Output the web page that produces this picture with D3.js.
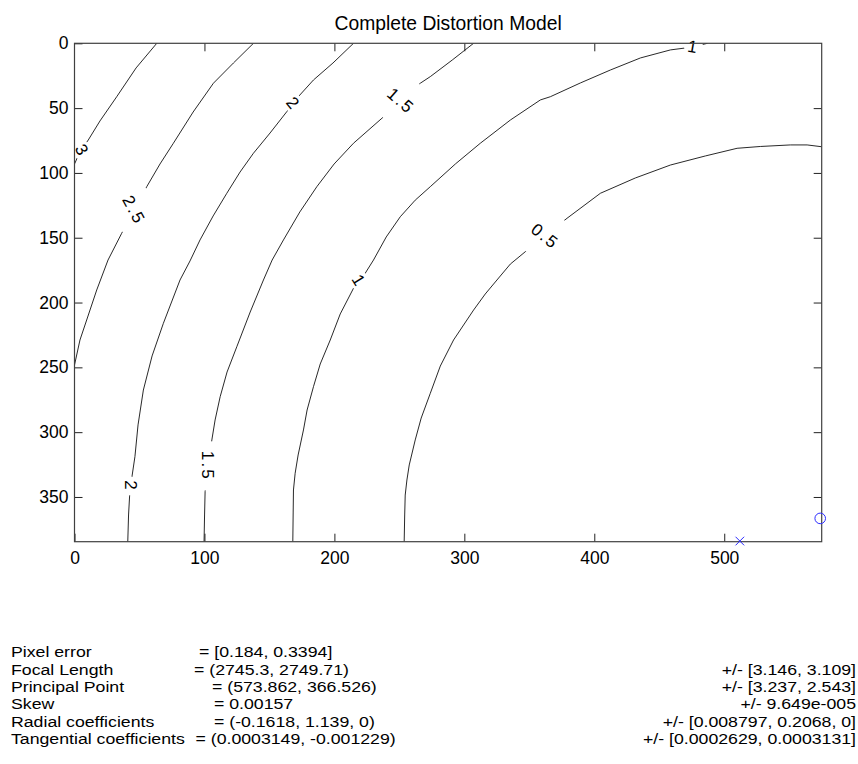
<!DOCTYPE html>
<html>
<head>
<meta charset="utf-8">
<script src="https://cdn.jsdelivr.net/npm/d3@7"></script>
<style>
  body { margin: 0; background: #fff; }
  text { font-family: "Liberation Sans", Arial, Helvetica, sans-serif; fill: #000; }
</style>
</head>
<body>
<svg id="chart" width="858" height="764"></svg>
<script>
// Image extent (pixels) shown on the axes
const xDomain = [0, 575];
const yDomain = [0, 384.5];

// Tick values
const xTicks = [0, 100, 200, 300, 400, 500];
const yTicks = [0, 50, 100, 150, 200, 250, 300, 350];

// Iso-lines of the distortion magnitude (pixels), traced as [u, v] polylines
const contour3  = [[63.3,0],[47.4,19.0],[32.5,41.2],[19.6,59.9],[10.6,74.6],[4.2,83.8],[0,93.1]];
const contour25 = [[137.7,0],[122.3,15.2],[106.9,30.8],[91.3,53.0],[76.1,77.1],[65.8,93.1],[55.6,110.6],
                   [36.3,146.6],[25.8,167.2],[17.1,190.3],[10.4,210.4],[4.2,228.9],[0,248.2]];
const contour2  = [[214.7,0],[198.9,15.2],[183.9,28.3],[173.4,39.9],[163.4,52.7],[150.5,69.2],[137.7,84.8],
                   [127.4,99.3],[117.2,115.7],[106.7,133.2],[96.6,151.7],[88.9,167.9],[81.2,182.6],[68.4,216.0],
                   [59.7,241.2],[53.0,267.5],[48.9,294.4],[46.5,318.9],[44.3,333.8],[42.4,349.3],[41.6,363.9],[41.0,384.5]];
const contour15 = [[307.1,0],[290.7,12.9],[273.8,25.7],[266.1,30.8],[236.6,57.8],[214.7,77.1],[199.8,93.1],
                   [186.5,110.6],[173.4,130.1],[160.8,151.7],[152.1,167.2],[145.4,182.6],[135.2,207.3],[124.9,234.1],
                   [117.4,253.6],[112.1,272.6],[108.2,290.6],[105.7,306.0],[100.5,345.9],[100.1,363.9],[99.7,384.5]];
const contour1  = [[487.1,0],[482.5,1.1],[470.2,3.6],[458.6,5.1],[435.5,11.3],[412.4,20.6],[389.3,30.6],[366.2,41.2],
                   [358.5,43.7],[335.4,59.2],[312.3,77.1],[293.1,93.1],[273.8,110.6],[262.2,121.0],[250.7,133.8],
                   [239.9,149.4],[230.1,167.2],[223.7,177.4],[214.7,189.0],[204.5,208.8],[196.8,228.9],[189.1,247.4],
                   [183.9,264.9],[179.0,282.9],[176.2,298.3],[172.1,317.6],[169.8,331.7],[168.5,344.6],[168.0,384.5]];
const contour05 = [[575,79.8],[563.8,78.4],[550.9,78.4],[527.8,79.6],[509.9,81.0],[485.5,86.9],[458.6,93.9],
                   [431.6,103.9],[404.7,115.7],[379.0,135.0],[346.9,160.8],[335.4,170.3],[325.1,182.6],[316.1,193.4],
                   [307.1,205.8],[291.7,228.9],[281.5,249.0],[273.8,270.0],[266.8,289.1],[262.2,306.0],[257.6,325.3],
                   [255.8,336.9],[254.5,348.5],[254.1,363.9],[253.7,384.5]];

const levels   = [3, 2.5, 2, 1.5, 1, 0.5];
const contours = [contour3, contour25, contour2, contour15, contour1, contour05];

// Inline level labels: which level, and where on that line it sits
const labelLevels = [3, 2.5, 2, 1.5, 1, 0.5, 1, 1.5, 2];
const labelU      = [6.1, 46.0, 168.6, 251.3, 476.3, 362.3, 219.2, 103.1, 43.3];
const labelV      = [82.7, 128.6, 46.3, 44.3, 2.4, 148.6, 183.2, 326.0, 341.5];

// Principal point and image centre
const principalPoint = [573.862, 366.526];
const imageCenter    = [512, 384];

// Calibration results
const paramNames  = ["Pixel error", "Focal Length", "Principal Point", "Skew",
                     "Radial coefficients", "Tangential coefficients"];
const paramValues = ["= [0.184, 0.3394]", "= (2745.3, 2749.71)", "= (573.862, 366.526)", "= 0.00157",
                     "= (-0.1618, 1.139, 0)", "= (0.0003149, -0.001229)"];
const paramErrors = ["", "+/- [3.146, 3.109]", "+/- [3.237, 2.543]", "+/- 9.649e-005",
                     "+/- [0.008797, 0.2068, 0]", "+/- [0.0002629, 0.0003131]"];

// ---- layout ----
const plot = { left: 74.5, right: 821.7, top: 43.3, bottom: 541.7 };
const x = d3.scaleLinear().domain(xDomain).range([plot.left, plot.right]);
const y = d3.scaleLinear().domain(yDomain).range([plot.top, plot.bottom]);

const svg = d3.select("#chart");

// Title
svg.append("text")
  .attr("x", (plot.left + plot.right) / 2)
  .attr("y", 29.5)
  .attr("text-anchor", "middle")
  .style("font-size", "19.3px")
  .text("Complete Distortion Model");

// Contour labels first (measure them to size the line gaps)
const labelGroup = svg.append("g").attr("class", "clabels");
const labelInfo = labelLevels.map((lev, i) => {
  const pts = contours[levels.indexOf(lev)].map(p => [x(p[0]), y(p[1])]);
  const px = x(labelU[i]), py = y(labelV[i]);
  // nearest segment of the polyline
  let best = 0, bestD = Infinity;
  for (let k = 0; k < pts.length - 1; k++) {
    const [ax, ay] = pts[k], [bx, by] = pts[k + 1];
    const dx = bx - ax, dy = by - ay;
    const t = Math.max(0, Math.min(1, ((px - ax) * dx + (py - ay) * dy) / (dx * dx + dy * dy)));
    const d = Math.hypot(ax + t * dx - px, ay + t * dy - py);
    if (d < bestD) { bestD = d; best = k; }
  }
  const a = pts[Math.max(0, best - 1)], b = pts[Math.min(pts.length - 1, best + 2)];
  let th = Math.atan2(b[1] - a[1], b[0] - a[0]) * 180 / Math.PI;
  if (th > 90) th -= 180;
  if (th <= -90) th += 180;
  // labels are rotated against the line direction (reversed vertical axis)
  const rot = Math.abs(th) > 80 ? 90 : -th;
  return { lev, px, py, rot };
});

const labelTexts = labelGroup.selectAll("text")
  .data(labelInfo)
  .join("text")
  .attr("transform", d => `translate(${d.px},${d.py}) rotate(${d.rot})`)
  .attr("text-anchor", "middle")
  .attr("dy", "0.36em")
  .style("font-size", "17px")
  .style("letter-spacing", "2.2px")
  .text(d => String(d.lev));

labelTexts.each(function(d) { d.w = this.getComputedTextLength(); });

// Mask that opens a gap in each line around its label
const defs = svg.append("defs");
const mask = defs.append("mask").attr("id", "gapMask").attr("maskUnits", "userSpaceOnUse")
  .attr("x", 0).attr("y", 0).attr("width", 858).attr("height", 764);
mask.append("rect").attr("width", 858).attr("height", 764).attr("fill", "#fff");
mask.selectAll("circle").data(labelInfo).join("circle")
  .attr("cx", d => d.px).attr("cy", d => d.py)
  .attr("r", d => d.w * 0.82)
  .attr("fill", "#000");

defs.append("clipPath").attr("id", "plotClip")
  .append("rect")
  .attr("x", plot.left).attr("y", plot.top)
  .attr("width", plot.right - plot.left).attr("height", plot.bottom - plot.top);

const line = d3.line().x(d => x(d[0])).y(d => y(d[1]));

svg.insert("g", ".clabels")
  .attr("clip-path", "url(#plotClip)")
  .attr("mask", "url(#gapMask)")
  .selectAll("path")
  .data(contours)
  .join("path")
  .attr("d", line)
  .attr("fill", "none")
  .attr("stroke", "#111")
  .attr("stroke-width", 0.9);

// Axes: box with inward ticks on all four sides
const axisColor = "#404040";
function styleAxis(g) {
  g.select(".domain").remove();
  g.selectAll(".tick line").attr("stroke", "#222").attr("stroke-width", 1);
  g.selectAll(".tick text").style("font-size", "17.5px").style("font-family", "'Liberation Sans', Arial, sans-serif").attr("fill", "#000");
}

svg.append("g")
  .attr("transform", `translate(0,${plot.bottom})`)
  .call(d3.axisBottom(x).tickValues(xTicks).tickSize(-8).tickSizeOuter(0).tickPadding(10).tickFormat(d3.format("d")))
  .call(styleAxis);

svg.append("g")
  .attr("transform", `translate(0,${plot.top})`)
  .call(d3.axisTop(x).tickValues(xTicks.filter(v => v > 0)).tickSize(-8).tickSizeOuter(0).tickFormat(""))
  .call(styleAxis);

svg.append("g")
  .attr("transform", `translate(${plot.left},0)`)
  .call(d3.axisLeft(y).tickValues(yTicks).tickSize(-8).tickSizeOuter(0).tickPadding(6).tickFormat(d3.format("d")))
  .call(styleAxis);

svg.append("g")
  .attr("transform", `translate(${plot.right},0)`)
  .call(d3.axisRight(y).tickValues(yTicks.filter(v => v > 0)).tickSize(-8).tickSizeOuter(0).tickFormat(""))
  .call(styleAxis);

svg.append("rect")
  .attr("x", plot.left).attr("y", plot.top)
  .attr("width", plot.right - plot.left).attr("height", plot.bottom - plot.top)
  .attr("fill", "none")
  .attr("stroke", axisColor)
  .attr("stroke-width", 1.2);

// Principal point (circle) and image centre (cross)
svg.append("circle")
  .attr("cx", x(principalPoint[0])).attr("cy", y(principalPoint[1]))
  .attr("r", 5.3)
  .attr("fill", "none")
  .attr("stroke", "#2b2bff")
  .attr("stroke-width", 1);

const cx = x(imageCenter[0]), cy = y(imageCenter[1]), s = 4.3;
svg.append("path")
  .attr("d", `M${cx - s},${cy - s}L${cx + s},${cy + s}M${cx - s},${cy + s}L${cx + s},${cy - s}`)
  .attr("stroke", "#2b2bff")
  .attr("stroke-width", 1)
  .attr("fill", "none");

// Calibration summary below the plot; rows are tightly spaced, so the
// glyphs are widened horizontally instead of enlarging the font
const rowY   = [657.3, 675, 692.3, 709.3, 726.7, 744];
const valueX = [199, 194, 212, 214, 214, 195.5];
const widen  = 1.15;
const info = svg.append("g").style("font-size", "15.4px");
function placeRow(sel, xOf) {
  sel.attr("transform", (d, i) => `translate(${xOf(i)},${rowY[i]}) scale(${widen},1)`);
}
info.selectAll("text.name").data(paramNames).join("text")
  .attr("class", "name")
  .call(placeRow, () => 11)
  .text(d => d);
info.selectAll("text.value").data(paramValues).join("text")
  .attr("class", "value")
  .call(placeRow, i => valueX[i])
  .text(d => d);
info.selectAll("text.err").data(paramErrors).join("text")
  .attr("class", "err")
  .call(placeRow, () => 856)
  .attr("text-anchor", "end")
  .text(d => d);
</script>
</body>
</html>
